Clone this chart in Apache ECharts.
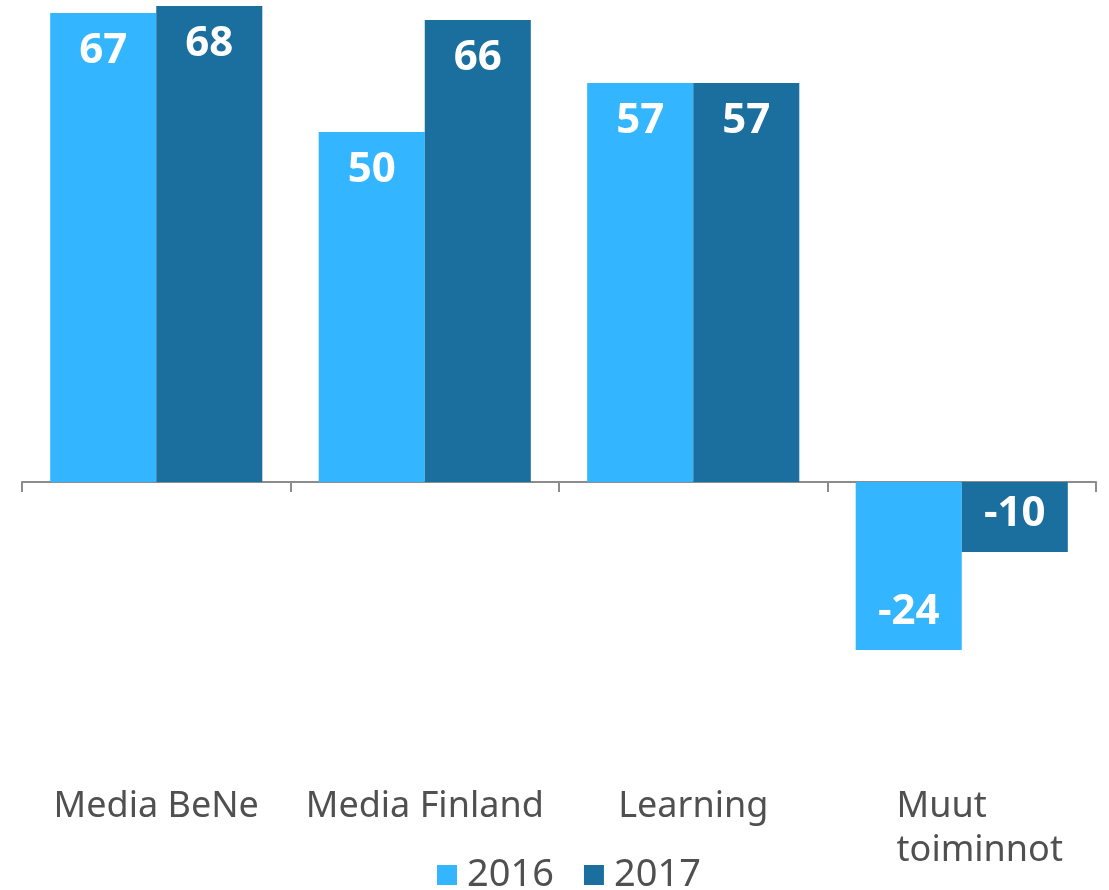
<!DOCTYPE html>
<html>
<head>
<meta charset="utf-8">
<script src="https://cdn.jsdelivr.net/npm/echarts@6/dist/echarts.min.js"></script>
<style>
  html, body { margin: 0; padding: 0; background: #fff; }
  #chart { width: 1109px; height: 890px; }
</style>
</head>
<body>
<div id="chart"></div>
<script>
var categories = ['Media BeNe', 'Media Finland', 'Learning', 'Muut\ntoiminnot'];
var years = ['2016', '2017'];
var values2016 = [67, 50, 57, -24];
var values2017 = [68, 66, 57, -10];

var colors = ['#33b5ff', '#1a6f9e'];
var textColor = '#505050';

var myChart = echarts.init(document.getElementById('chart'));

var barLabel = {
    show: true,
    color: '#fff',
    fontFamily: 'Open Sans',
    fontWeight: 'bold',
    fontSize: 42,
    distance: 17,
    position: 'insideTop'
};

// negative bars get their label at the far end
function withLabels(values) {
    return values.map(function (v) {
        return {
            value: v,
            label: { position: v < 0 ? 'insideBottom' : 'insideTop' }
        };
    });
}

var option = {
    animation: false,
    grid: { left: 22, right: 13, top: 6, bottom: 128 },
    legend: {
        data: years,
        bottom: -9,
        left: 432,
        itemWidth: 20,
        itemHeight: 20,
        itemGap: 30,
        icon: 'rect',
        textStyle: { color: textColor, fontFamily: 'Noto Sans', fontSize: 38, padding: [0, 0, 0, 5] }
    },
    xAxis: [{
        type: 'category',
        data: categories,
        axisLine: { onZero: true, lineStyle: { color: '#8c8c8c', width: 2 } },
        axisTick: { show: true, length: 10, lineStyle: { color: '#8c8c8c', width: 2 } },
        axisLabel: { show: false }
    }, {
        type: 'category',
        data: categories,
        position: 'bottom',
        axisLine: { show: false, onZero: false },
        axisTick: { show: false },
        axisLabel: {
            interval: 0,
            hideOverlap: false,
            margin: 23,
            color: textColor,
            fontFamily: 'Noto Sans',
            fontSize: 36,
            lineHeight: 44,
            formatter: function (v) {
                if (v.indexOf('\n') < 0) return v;
                return v.split('\n').map(function (s) { return '{l|' + s + '}'; }).join('\n');
            },
            rich: {
                l: {
                    align: 'left',
                    color: textColor,
                    fontFamily: 'Noto Sans',
                    fontSize: 36,
                    lineHeight: 44,
                    padding: [0, 0, 0, 36]
                }
            }
        }
    }],
    yAxis: {
        type: 'value',
        min: -40,
        max: 68,
        show: false,
        splitLine: { show: false }
    },
    series: [{
        name: years[0],
        type: 'bar',
        xAxisIndex: 0,
        barGap: 0,
        barCategoryGap: '21%',
        itemStyle: { color: colors[0] },
        label: barLabel,
        data: withLabels(values2016)
    }, {
        name: years[1],
        type: 'bar',
        xAxisIndex: 0,
        barGap: 0,
        barCategoryGap: '21%',
        itemStyle: { color: colors[1] },
        label: barLabel,
        data: withLabels(values2017)
    }]
};

myChart.setOption(option);
</script>
</body>
</html>
